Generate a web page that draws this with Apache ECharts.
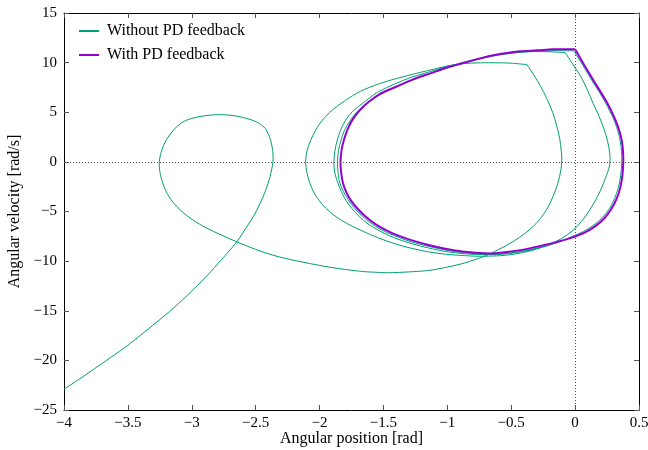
<!DOCTYPE html>
<html>
<head>
<meta charset="utf-8">
<script src="https://cdn.jsdelivr.net/npm/echarts@6/dist/echarts.min.js"></script>
<style>
html,body{margin:0;padding:0;background:#fff;}
#chart{width:648px;height:450px;}
</style>
</head>
<body>
<div id="chart"></div>
<script>
// ---- Data: [angular position (rad), angular velocity (rad/s)] ----
const xTicks = [-4, -3.5, -3, -2.5, -2, -1.5, -1, -0.5, 0, 0.5];
const yTicks = [-25, -20, -15, -10, -5, 0, 5, 10, 15];

// Without PD feedback: tail, small loop, big lower arc, inner arc up to first corner
const greenArc1 = [
  [-4.0,-22.9],[-3.879,-21.88],[-3.763,-20.85],[-3.633,-19.69],[-3.502,-18.5],
  [-3.375,-17.19],[-3.242,-15.81],[-3.109,-14.34],[-2.982,-12.78],[-2.875,-11.39],
  [-2.773,-9.93],[-2.707,-8.97],[-2.643,-7.98],[-2.578,-6.7],[-2.513,-5.39],
  [-2.465,-4.18],[-2.422,-2.87],[-2.387,-1.46],[-2.365,0],[-2.367,1.16],
  [-2.383,2.17],[-2.406,2.92],[-2.435,3.51],[-2.496,4.03],[-2.565,4.35],
  [-2.664,4.64],[-2.773,4.76],[-2.891,4.66],[-3.008,4.35],[-3.086,3.88],
  [-3.148,3.13],[-3.199,2.22],[-3.234,1.21],[-3.254,0],[-3.246,-1.26],
  [-3.216,-2.54],[-3.164,-3.78],[-3.086,-4.89],[-2.992,-5.85],[-2.887,-6.65],
  [-2.77,-7.36],[-2.643,-8.08],[-2.5,-8.82],[-2.357,-9.43],[-2.215,-9.88],
  [-2.07,-10.26],[-1.927,-10.6],[-1.797,-10.84],[-1.666,-11.04],[-1.5625,-11.12],
  [-1.459,-11.17],[-1.305,-11.09],[-1.146,-10.94],[-1.016,-10.64],[-0.885,-10.26],
  [-0.773,-9.8],[-0.664,-9.25],[-0.477,-7.96],[-0.328,-6.5],[-0.227,-4.89],
  [-0.16,-3.07],[-0.121,-1.46],[-0.104,0],[-0.109,1.16],[-0.121,2.37],
  [-0.145,3.68],[-0.176,4.99],[-0.219,6.3],[-0.27,7.61],[-0.324,8.77],
  [-0.377,9.8]
];
// first cycle (outermost loop)
const greenArc2 = [
  [-0.377,9.8],[-0.508,9.95],[-0.612,9.98],[-0.742,9.98],[-0.873,9.9],
  [-1.002,9.66],[-1.146,9.22],[-1.273,8.82],[-1.406,8.37],[-1.537,7.86],
  [-1.68,7.11],[-1.797,6.2],[-1.898,5.24],[-1.979,4.18],[-2.031,3.18],
  [-2.07,2.17],[-2.098,1.11],[-2.109,0],[-2.099,-1.06],[-2.078,-2.07],
  [-2.047,-3.02],[-2.004,-3.88],[-1.953,-4.64],[-1.891,-5.34],[-1.82,-5.95],
  [-1.742,-6.5],[-1.656,-7.01],[-1.539,-7.66],[-1.406,-8.27],[-1.277,-8.72],
  [-1.146,-9.07],[-1.016,-9.3],[-0.885,-9.43],[-0.781,-9.5],[-0.677,-9.5],
  [-0.547,-9.41],[-0.404,-9.13],[-0.273,-8.67],[-0.156,-8.06],[-0.0625,-7.36],
  [0.016,-6.5],[0.086,-5.39],[0.148,-4.13],[0.199,-2.87],[0.238,-1.61],
  [0.264,-0.66],[0.273,0],[0.27,0.96],[0.254,2.07],[0.227,3.28],
  [0.1875,4.59],[0.141,5.9],[0.094,7.31],[0.043,8.62],[-0.02,9.88],
  [-0.078,11.01]
];
// second cycle
const greenArc3 = [
  [-0.078,11.01],[-0.195,11.09],[-0.3125,11.12],[-0.43,11.06],[-0.547,10.92],
  [-0.664,10.69],[-0.781,10.33],[-0.898,9.95],[-1.016,9.55],[-1.146,9.05],
  [-1.281,8.52],[-1.406,7.88],[-1.547,7.01],[-1.666,5.87],[-1.742,5.09],
  [-1.797,4.18],[-1.836,3.18],[-1.862,2.17],[-1.879,1.16],[-1.888,0],
  [-1.879,-1.21],[-1.849,-2.37],[-1.805,-3.63],[-1.745,-4.72],[-1.656,-5.9],
  [-1.537,-6.91],[-1.414,-7.66],[-1.276,-8.25],[-1.148,-8.67],[-1.016,-9.02],
  [-0.852,-9.27],[-0.677,-9.35],[-0.547,-9.27],[-0.406,-9.02],[-0.273,-8.65],
  [-0.141,-8.15],[-0.031,-7.56],[0.066,-7.01],[0.148,-6.35],[0.215,-5.59],
  [0.27,-4.69],[0.309,-3.68],[0.338,-2.62],[0.357,-1.36],[0.365,0],
  [0.363,1.06],[0.354,2.07],[0.336,3.07],[0.309,4.08],[0.273,5.09],
  [0.234,6.05],[0.1875,7.06],[0.133,8.17],[0.0625,9.68],[-0.008,11.14]
];
// third cycle (almost on the limit cycle)
const greenArc4 = [
  [-0.008,11.19],[-0.172,11.21],[-0.297,11.14],[-0.43,11.04],[-0.609,10.74],
  [-0.742,10.38],[-0.875,9.93],[-1.008,9.43],[-1.133,8.9],[-1.273,8.24],
  [-1.406,7.51],[-1.523,6.8],[-1.625,5.95],[-1.707,5.04],[-1.762,4.13],
  [-1.805,3.18],[-1.832,2.17],[-1.852,1.16],[-1.859,0],[-1.855,-1.06],
  [-1.84,-2.17],[-1.801,-3.28],[-1.75,-4.28],[-1.684,-5.24],[-1.605,-6.1],
  [-1.516,-6.85],[-1.41,-7.46],[-1.281,-8.06],[-1.148,-8.5],[-1.016,-8.88],
  [-0.883,-9.14],[-0.758,-9.28],[-0.648,-9.32],[-0.531,-9.22],[-0.406,-8.97],
  [-0.273,-8.6]
];
// With PD feedback: limit cycle
const purpleCycle = [
  [0.0,11.34],[-0.086,11.34],[-0.172,11.34],[-0.297,11.24],[-0.43,11.14],
  [-0.523,10.99],[-0.609,10.81],[-0.742,10.43],[-0.875,9.96],[-1.008,9.48],
  [-1.133,8.92],[-1.273,8.29],[-1.406,7.54],[-1.523,6.88],[-1.617,6.03],
  [-1.691,5.12],[-1.745,4.18],[-1.784,3.18],[-1.81,2.17],[-1.828,1.16],
  [-1.836,0],[-1.831,-1.06],[-1.818,-2.07],[-1.791,-3.05],[-1.752,-3.93],
  [-1.699,-4.77],[-1.633,-5.59],[-1.551,-6.38],[-1.453,-7.06],[-1.367,-7.51],
  [-1.276,-7.91],[-1.148,-8.37],[-1.016,-8.75],[-0.883,-9.02],[-0.758,-9.17],
  [-0.648,-9.22],[-0.534,-9.09],[-0.406,-8.84],[-0.273,-8.47],[-0.141,-8.06],
  [-0.031,-7.66],[0.07,-7.16],[0.156,-6.5],[0.227,-5.7],[0.281,-4.79],
  [0.323,-3.78],[0.352,-2.67],[0.37,-1.36],[0.377,0],[0.375,1.06],
  [0.366,2.07],[0.348,3.07],[0.32,4.08],[0.285,5.09],[0.246,6.05],
  [0.199,7.06],[0.143,8.22],[0.07,9.78],[0.0,11.34]
];

const GREEN = '#009E73';
const PURPLE = '#9400D3';
const FONT = '"Liberation Serif", "DejaVu Serif", serif';
const fmt = v => String(v).replace('-', '\u2212');

// smooth cubic path through the given pixel points (Catmull-Rom style)
function smoothPath(pts) {
  let d = 'M' + pts[0][0].toFixed(2) + ' ' + pts[0][1].toFixed(2);
  for (let i = 0; i < pts.length - 1; i++) {
    const p0 = pts[i - 1] || pts[i], p1 = pts[i], p2 = pts[i + 1], p3 = pts[i + 2] || pts[i + 1];
    const c1x = p1[0] + (p2[0] - p0[0]) / 6, c1y = p1[1] + (p2[1] - p0[1]) / 6;
    const c2x = p2[0] - (p3[0] - p1[0]) / 6, c2y = p2[1] - (p3[1] - p1[1]) / 6;
    d += ' C' + [c1x, c1y, c2x, c2y, p2[0], p2[1]].map(v => v.toFixed(2)).join(' ');
  }
  return d;
}

// Each arc is drawn as one path whose points are placed by the chart's own axes (api.coord)
function arcSeries(name, arr, color, width, z, withMarks) {
  const s = {
    name: name, type: 'custom', coordinateSystem: 'cartesian2d',
    xAxisIndex: 0, yAxisIndex: 0,
    data: arr, encode: { x: 0, y: 1 },
    itemStyle: { color: color }, z: z, silent: true, clip: true,
    renderItem: function (params, api) {
      if (params.dataIndex !== 0) return null;
      const pts = arr.map(p => api.coord(p));
      return {
        type: 'path', silent: true,
        shape: { pathData: smoothPath(pts) },
        style: { stroke: color, lineWidth: width, fill: 'none', lineJoin: 'round' }
      };
    }
  };
  if (withMarks) {
    s.markLine = {
      silent: true, symbol: ['none', 'none'], animation: false,
      label: { show: false },
      lineStyle: { color: '#555', width: 1, type: [1, 2] },
      data: [{ xAxis: 0 }, { yAxis: 0 }]
    };
  }
  return s;
}

const chart = echarts.init(document.getElementById('chart'), null, { renderer: 'canvas' });
const axisCommon = {
  type: 'value',
  axisLine: { show: true, onZero: false, lineStyle: { color: '#000', width: 1 } },
  axisTick: { show: true, inside: true, length: 5, lineStyle: { color: '#555', width: 1 } },
  splitLine: { show: false }
};
chart.setOption({
  animation: false,
  backgroundColor: '#fff',
  textStyle: { fontFamily: FONT },
  grid: { left: 64, right: 9, top: 13, bottom: 40, containLabel: false, outerBoundsMode: 'none' },
  legend: {
    orient: 'vertical', left: 74, top: 18,
    itemWidth: 20, itemHeight: 2, itemGap: 8,
    icon: 'rect',
    textStyle: { fontFamily: FONT, fontSize: 16, lineHeight: 16, color: '#000', padding: [0, 0, 0, 3] },
    data: [
      { name: 'Without PD feedback', itemStyle: { color: GREEN } },
      { name: 'With PD feedback', itemStyle: { color: PURPLE } }
    ]
  },
  xAxis: [
    Object.assign({}, axisCommon, {
      min: xTicks[0], max: xTicks[xTicks.length - 1], interval: 0.5, position: 'bottom',
      name: 'Angular position [rad]', nameLocation: 'middle', nameGap: 21, nameMoveOverlap: false,
      nameTextStyle: { fontFamily: FONT, fontSize: 16, color: '#000' },
      axisLabel: { fontFamily: FONT, fontSize: 15, color: '#000', margin: 6, formatter: fmt }
    }),
    Object.assign({}, axisCommon, {
      min: xTicks[0], max: xTicks[xTicks.length - 1], interval: 0.5, position: 'top',
      axisLabel: { show: false }
    })
  ],
  yAxis: [
    Object.assign({}, axisCommon, {
      min: yTicks[0], max: yTicks[yTicks.length - 1], interval: 5, position: 'left',
      name: 'Angular velocity [rad/s]', nameLocation: 'middle', nameGap: 41,
      nameTextStyle: { fontFamily: FONT, fontSize: 16, color: '#000' },
      axisLabel: { fontFamily: FONT, fontSize: 15, color: '#000', margin: 7, formatter: fmt }
    }),
    Object.assign({}, axisCommon, {
      min: yTicks[0], max: yTicks[yTicks.length - 1], interval: 5, position: 'right',
      axisLabel: { show: false }
    })
  ],
  series: [
    arcSeries('Without PD feedback', greenArc1, GREEN, 1, 3, true),
    arcSeries('Without PD feedback', greenArc2, GREEN, 1, 3, false),
    arcSeries('Without PD feedback', greenArc3, GREEN, 1, 3, false),
    arcSeries('Without PD feedback', greenArc4, GREEN, 1, 3, false),
    arcSeries('With PD feedback', purpleCycle, PURPLE, 2, 4, false)
  ]
});
</script>
</body>
</html>
